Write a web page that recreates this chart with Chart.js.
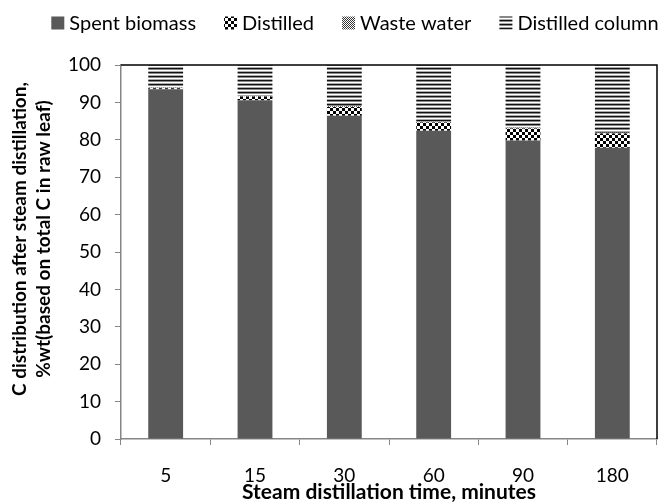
<!DOCTYPE html>
<html>
<head>
<meta charset="utf-8">
<script src="https://cdn.jsdelivr.net/npm/chart.js@4.4.1/dist/chart.umd.min.js"></script>
<style>
  html, body { margin: 0; padding: 0; background: #fff; }
  #wrap { width: 665px; height: 504px; position: relative; }
</style>
</head>
<body>
<div id="wrap"><canvas id="chart" width="665" height="504"></canvas></div>
<script>
// ---- data ----
const times = ['5', '15', '30', '60', '90', '180'];
const spentBiomass = [93.5, 90.6, 86.4, 82.4, 79.8, 77.9];
const distilled = [0.3, 1.0, 2.4, 2.2, 3.2, 3.8];
const wasteWater = [0.1, 0.1, 0.2, 0.2, 0.2, 0.2];
const distilledColumn = [6.1, 8.3, 11.0, 15.2, 16.8, 18.1];
const yTicks = [0, 10, 20, 30, 40, 50, 60, 70, 80, 90, 100];
const xTitle = 'Steam distillation time, minutes';
const yTitle = ['C distribution after steam distillation,', '%wt(based on total C in raw leaf)'];

const FONT = "Lato, 'Open Sans', sans-serif";

// small tile patterns like the excel fills
function makePattern(w, h, draw) {
    const c = document.createElement('canvas');
    c.width = w; c.height = h;
    const g = c.getContext('2d');
    draw(g);
    return document.getElementById('chart').getContext('2d').createPattern(c, 'repeat');
}

const checkerFill = makePattern(6, 6, g => {
    g.fillStyle = '#fff'; g.fillRect(0, 0, 6, 6);
    g.fillStyle = '#000';
    g.fillRect(0, 0, 3, 3);
    g.fillRect(3, 3, 3, 3);
});
const fineFill = makePattern(2, 2, g => {
    g.fillStyle = '#fff'; g.fillRect(0, 0, 2, 2);
    g.fillStyle = '#333';
    g.fillRect(0, 0, 1, 1);
    g.fillRect(1, 1, 1, 1);
});
const stripeFill = makePattern(4, 4, g => {
    g.fillStyle = '#111'; g.fillRect(0, 0, 4, 1);
    g.fillStyle = '#888'; g.fillRect(0, 1, 4, 1);
    g.fillStyle = '#fff'; g.fillRect(0, 2, 4, 1);
    g.fillStyle = '#aaa'; g.fillRect(0, 3, 4, 1);
});

// black frame on top and right of the plot
const frameLines = {
    id: 'frameLines',
    afterDatasetsDraw(chart) {
        const a = chart.chartArea;
        const ctx = chart.ctx;
        ctx.save();
        ctx.strokeStyle = '#000';
        ctx.lineWidth = 1.5;
        ctx.beginPath();
        ctx.moveTo(a.left, a.top);
        ctx.lineTo(a.right, a.top);
        ctx.lineTo(a.right, a.bottom);
        ctx.stroke();
        ctx.restore();
    }
};

// legend in one row above the plot, excel style (small box, tight gap)
const topLegend = {
    id: 'topLegend',
    afterDraw(chart) {
        const ctx = chart.ctx;
        const sets = chart.data.datasets;
        const box = 13, gap = 5, itemGap = 28, centerX = 355, midY = 23;
        ctx.save();
        ctx.font = `20px ${FONT}`;
        ctx.textBaseline = 'middle';
        const widths = sets.map(d => box + gap + ctx.measureText(d.label).width);
        const total = widths.reduce((a, b) => a + b, 0) + itemGap * (sets.length - 1);
        let x = centerX - total / 2;
        sets.forEach((d, i) => {
            ctx.fillStyle = d.backgroundColor;
            ctx.fillRect(x, midY - box / 2, box, box);
            ctx.fillStyle = '#000';
            ctx.fillText(d.label, x + box + gap, midY + 1);
            x += widths[i] + itemGap;
        });
        ctx.restore();
    }
};

// axis titles
const axisTitles = {
    id: 'axisTitles',
    afterDraw(chart) {
        const ctx = chart.ctx;
        const a = chart.chartArea;
        ctx.save();
        ctx.fillStyle = '#000';
        ctx.textAlign = 'center';
        ctx.textBaseline = 'middle';
        ctx.font = `bold 21px ${FONT}`;
        ctx.fillText(xTitle, (a.left + a.right) / 2, 492);
        ctx.font = `bold 19px ${FONT}`;
        ctx.translate(0, 239);
        ctx.rotate(-Math.PI / 2);
        ctx.fillText(yTitle[0], 0, 20);
        ctx.fillText(yTitle[1], 0, 44);
        ctx.restore();
    }
};

const barOpts = { barPercentage: 0.39, categoryPercentage: 1.0, borderWidth: 0 };

new Chart(document.getElementById('chart'), {
    type: 'bar',
    data: {
        labels: times,
        datasets: [
            { label: 'Spent biomass', data: spentBiomass, backgroundColor: '#595959', ...barOpts },
            { label: 'Distilled', data: distilled, backgroundColor: checkerFill, ...barOpts },
            { label: 'Waste water', data: wasteWater, backgroundColor: fineFill, ...barOpts },
            { label: 'Distilled column', data: distilledColumn, backgroundColor: stripeFill, ...barOpts }
        ]
    },
    options: {
        responsive: false,
        animation: false,
        layout: { padding: { left: 0, right: 8, top: 65, bottom: 0 } },
        plugins: {
            legend: { display: false },
            tooltip: { enabled: false }
        },
        scales: {
            x: {
                stacked: true,
                grid: { display: true, drawOnChartArea: false, tickLength: 6, color: '#868686', offset: true },
                border: { color: '#868686', width: 1.5 },
                ticks: { color: '#000', font: { family: FONT, size: 19 }, padding: 19 },
                afterFit(scale) { scale.height = 65; }
            },
            y: {
                stacked: true,
                min: 0,
                max: 100,
                afterBuildTicks(scale) { scale.ticks = yTicks.map(v => ({ value: v })); },
                grid: { display: true, drawOnChartArea: false, tickLength: 6, color: '#868686' },
                border: { color: '#868686', width: 1.5 },
                ticks: { color: '#000', font: { family: FONT, size: 19 }, padding: 14 },
                afterFit(scale) { scale.width = 121; }
            }
        }
    },
    plugins: [frameLines, topLegend, axisTitles]
});
</script>
</body>
</html>
